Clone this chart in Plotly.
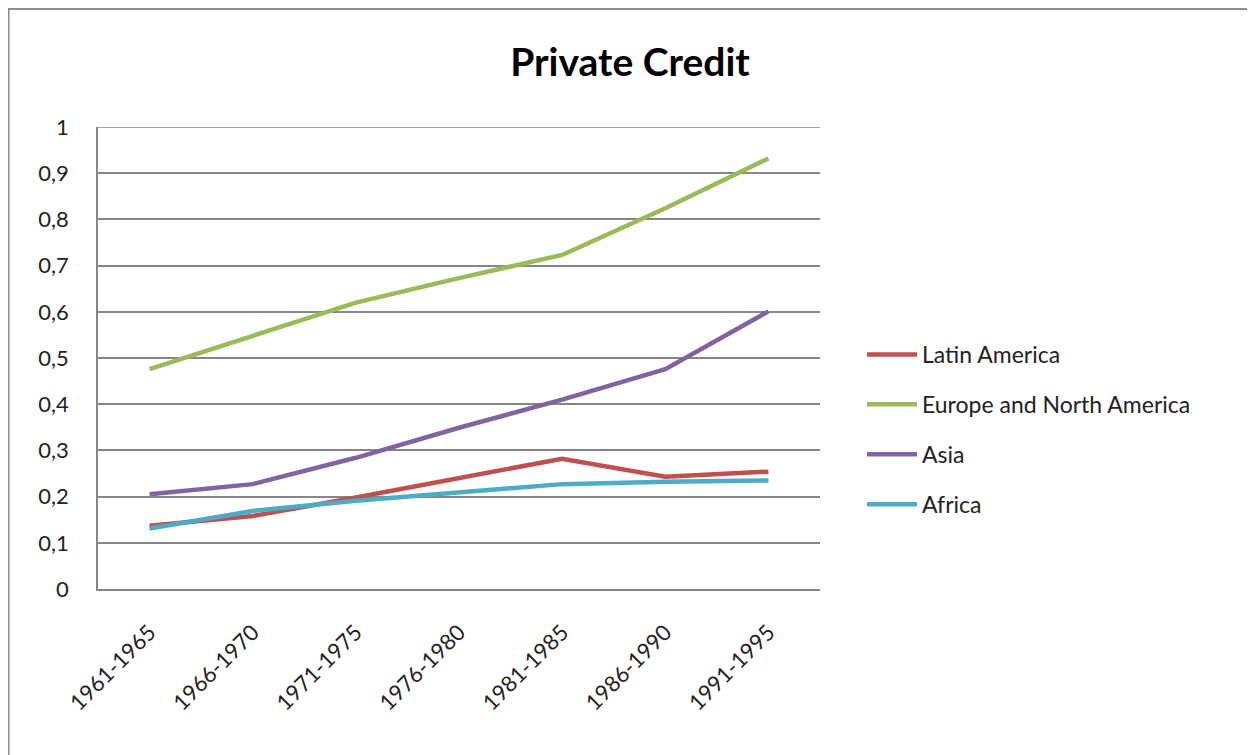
import plotly.graph_objects as go

periods = ["1961-1965", "1966-1970", "1971-1975", "1976-1980", "1981-1985", "1986-1990", "1991-1995"]
latin_america = [0.137, 0.158, 0.198, 0.241, 0.282, 0.243, 0.254]
europe_north_america = [0.476, 0.547, 0.620, 0.673, 0.723, 0.824, 0.932]
asia = [0.205, 0.227, 0.284, 0.349, 0.410, 0.476, 0.601]
africa = [0.131, 0.169, 0.191, 0.210, 0.227, 0.232, 0.235]
y_max = 1.0

series = [
    ("Latin America", latin_america, "#C0504D"),
    ("Europe and North America", europe_north_america, "#9BBB59"),
    ("Asia", asia, "#8064A2"),
    ("Africa", africa, "#4BACC6"),
]

fig = go.Figure()
for i, (name, vals, col) in enumerate(series):
    fig.add_trace(go.Scatter(
        x=periods, y=vals, name=name, mode="lines",
        line=dict(color=col, width=4.5), legendgroup=f"g{i}",
    ))

OFF = 8  # page body margin
W, H = 1255 - OFF, 755 - OFF
# plot area in screenshot pixels
L, R, T, B = 98, 820, 127, 589
pw, ph = R - L, B - T

def px(x):
    return (x - L) / pw

def py(y):
    return (B - y) / ph

font_family = "Lato, 'Open Sans', sans-serif"

fig.update_layout(
    width=W, height=H,
    margin=dict(l=L - OFF, r=W - (R - OFF), t=T - OFF, b=H - (B - OFF), pad=0),
    paper_bgcolor="white", plot_bgcolor="white",
    separators=", ",
    font=dict(family=font_family, color="#222222", size=22),
    title=dict(text="<b>Private Credit</b>", x=(630 - OFF) / W, xref="container", xanchor="center",
               y=1 - (62 - OFF) / H, yref="container", yanchor="middle",
               font=dict(family=font_family, size=39, color="#000000")),
    xaxis=dict(
        type="category", range=[-0.5, 6.5], showgrid=False,
        showline=True, linecolor="#868686", linewidth=1.5,
        ticks="", tickangle=-45, ticklabelstandoff=20,
        tickfont=dict(size=22, color="#222222"), fixedrange=True,
    ),
    yaxis=dict(
        range=[0, y_max], dtick=0.1, tick0=0, tickformat=".1~f",
        showgrid=True, gridcolor="#868686", gridwidth=1.5,
        showline=True, linecolor="#868686", linewidth=1.5,
        zeroline=False, ticks="", ticklabelstandoff=23,
        tickfont=dict(size=22, color="#222222"), fixedrange=True,
    ),
    legend=dict(
        x=px(862), xanchor="left", y=py(333), yanchor="top",
        font=dict(size=23, color="#222222"), tracegroupgap=17,
        bgcolor="rgba(0,0,0,0)", itemwidth=50,
    ),
    showlegend=True,
    shapes=[
        dict(
            type="rect", xref="paper", yref="paper",
            x0=px(8.5), x1=px(1262), y0=py(9), y1=py(762),
            line=dict(color="#8C8C8C", width=2), fillcolor="rgba(0,0,0,0)", layer="below",
        ),
        dict(
            type="line", xref="paper", yref="y",
            x0=0, x1=1, y0=y_max, y1=y_max,
            line=dict(color="#868686", width=1.5), layer="below",
        ),
    ],
)

fig.write_html("out.html")
